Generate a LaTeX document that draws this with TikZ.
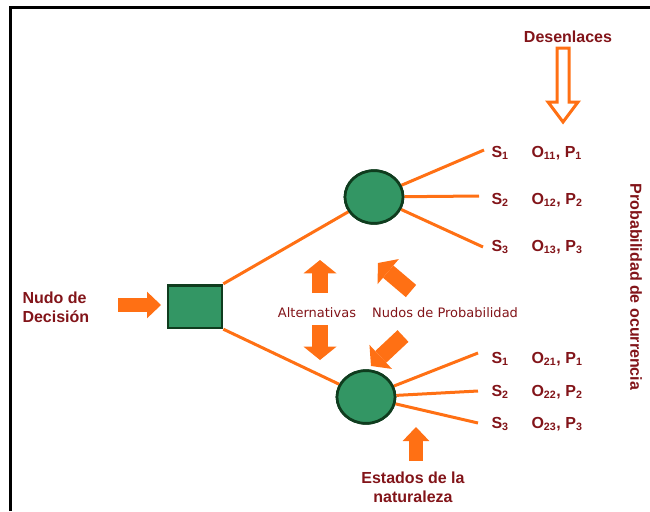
\documentclass[tikz,border=0pt]{standalone}
\usepackage{fontspec}
\setmainfont{Liberation Sans}
\newfontfamily\notefont{DejaVu Sans}
\usetikzlibrary{arrows.meta,shapes.geometric}

\definecolor{treeorange}{RGB}{255,112,20}
\definecolor{nodegreen}{RGB}{51,150,100}
\definecolor{nodeborder}{RGB}{15,60,30}
\definecolor{labelred}{RGB}{130,20,25}

\tikzset{every picture/.style={line width=0.75pt}}
\tikzset{
  branch/.style={draw=treeorange, line width=2.25pt},
  decision/.style={draw=nodeborder, fill=nodegreen, line width=2pt, minimum width=40.5pt, minimum height=32pt, inner sep=0pt},
  chance/.style={ellipse, draw=nodeborder, fill=nodegreen, line width=2pt, minimum width=43.5pt, minimum height=39.5pt, inner sep=0pt},
  fatarrow/.style={draw=treeorange, line width=12pt, -{Triangle[width=24.75pt,length=10pt,line width=0pt]}},
  smallarrow/.style={draw=treeorange, line width=10.5pt, -{Triangle[width=20pt,length=10.5pt,line width=0pt]}},
  hollowarrow/.style={draw=treeorange, fill=white, line width=2.25pt, line join=miter},
  lbl/.style={text=labelred, font=\fontsize{12}{14}\selectfont\bfseries, inner sep=0.75pt},
  note/.style={text=labelred, font=\notefont\fontsize{9.75}{12}\selectfont, inner sep=0.75pt},
}

\begin{document}
\begin{tikzpicture}[x=0.75pt,y=0.75pt,yscale=-1,xscale=1]
        \useasboundingbox (0,0) rectangle (650,511);

        %Frame
        \draw [line width=2.25pt] (10,511) -- (10,7) -- (650,7) ;

        %Nodes
        \node [decision] (dec) at (195,306.5) {};
        \node [chance] (up) at (374,197) {};
        \node [chance] (low) at (366,397) {};

        %Branch ends
        \coordinate (e11) at (484,150);
        \coordinate (e12) at (479,196);
        \coordinate (e13) at (483,247);
        \coordinate (e21) at (478,353);
        \coordinate (e22) at (478,391);
        \coordinate (e23) at (478,423);

        %Straight Lines
        \draw [branch] (dec.north east) -- (up) ;
        \draw [branch] (dec.south east) -- (low) ;
        \draw [branch] (up) -- (e11) ;
        \draw [branch] (up) -- (e12) ;
        \draw [branch] (up) -- (e13) ;
        \draw [branch] (low) -- (e21) ;
        \draw [branch] (low) -- (e22) ;
        \draw [branch] (low) -- (e23) ;

        %Redraw nodes over line ends
        \node [decision] at (dec) {};
        \node [chance] at (up) {};
        \node [chance] at (low) {};

        % Text Node
        \node [lbl, anchor=west] (s11) at (490,153) {S\textsubscript{1}};
        \node [lbl, anchor=west] (o11) at (530,153) {O\textsubscript{11}, P\textsubscript{1}};
        \node [lbl, anchor=west] (s12) at (490,200) {S\textsubscript{2}};
        \node [lbl, anchor=west] (o12) at (530,200) {O\textsubscript{12}, P\textsubscript{2}};
        \node [lbl, anchor=west] (s13) at (490,247) {S\textsubscript{3}};
        \node [lbl, anchor=west] (o13) at (530,247) {O\textsubscript{13}, P\textsubscript{3}};
        \node [lbl, anchor=west] (s21) at (490,359) {S\textsubscript{1}};
        \node [lbl, anchor=west] (o21) at (530,359) {O\textsubscript{21}, P\textsubscript{1}};
        \node [lbl, anchor=west] (s22) at (490,392) {S\textsubscript{2}};
        \node [lbl, anchor=west] (o22) at (530,392) {O\textsubscript{22}, P\textsubscript{2}};
        \node [lbl, anchor=west] (s23) at (490,424) {S\textsubscript{3}};
        \node [lbl, anchor=west] (o23) at (530,424) {O\textsubscript{23}, P\textsubscript{3}};

        % Text Node
        \node [lbl] (outcomes) at (568,37) {Desenlaces};
        \node [lbl, rotate=-90] (probocc) at (636,287) {Probabilidad de ocurrencia};
        \node [lbl, anchor=west, align=left] (declabel) at (21,307) {Nudo de\\Decisión};
        \node [lbl, align=center] (states) at (413,487) {Estados de la\\naturaleza};
        \node [note] (alts) at (317,313) {Alternativas};
        \node [note] (chancelabel) at (445,313) {Nudos de Probabilidad};

        %Block arrows
        \coordinate (a1t) at (118,305);  \coordinate (a1h) at (161,305);
        \coordinate (a2t) at (320,293);  \coordinate (a2h) at (320,260);
        \coordinate (a3t) at (320,325);  \coordinate (a3h) at (320,360);
        \coordinate (a4t) at (411,291);  \coordinate (a4h) at (378,263);
        \coordinate (a5t) at (403,336);  \coordinate (a5h) at (371,366);
        \coordinate (a6t) at (416,461);  \coordinate (a6h) at (416,427);
        \draw [smallarrow] (a1t) -- (a1h) ;
        \draw [fatarrow] (a2t) -- (a2h) ;
        \draw [fatarrow] (a3t) -- (a3h) ;
        \draw [fatarrow] (a4t) -- (a4h) ;
        \draw [fatarrow] (a5t) -- (a5h) ;
        \draw [smallarrow] (a6t) -- (a6h) ;

        %Hollow arrow
        \draw [hollowarrow] (557,48) -- (569,48) -- (569,102) -- (578,102) -- (563,122) -- (548,102) -- (557,102) -- cycle ;

\end{tikzpicture}
\end{document}
